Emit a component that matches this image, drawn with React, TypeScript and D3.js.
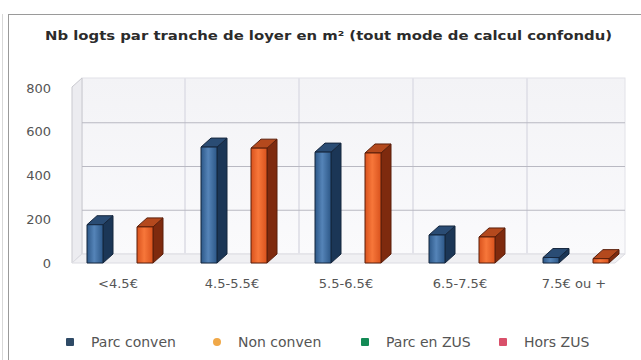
import React from "react";
import * as d3 from "d3";

const categories = ["<4.5€", "4.5-5.5€", "5.5-6.5€", "6.5-7.5€", "7.5€ ou +"];
const parcConven = [175, 530, 507, 128, 25];
const nonConven = [165, 525, 503, 119, 20];
const legendNames = ["Parc conven", "Non conven", "Parc en ZUS", "Hors ZUS"];
const legendColors = ["#2f4a66", "#f0a848", "#138a55", "#d9506a"];
const yTicks = [0, 200, 400, 600, 800];

const W = 641;
const H = 360;
const DX = 10;
const DY = 9;
const FONT = "'DejaVu Sans', Verdana, sans-serif";

const palettes = [
  { front0: "#5584b8", front1: "#2c5787", side: "#1b3656", top: "#2a4c74", edge: "#15263d" },
  { front0: "#f7773a", front1: "#d9521d", side: "#7e2a0e", top: "#b4491d", edge: "#5a1e0a" },
];

export default function App() {
  const x = d3.scalePoint<string>().domain(categories).range([118, 574]);
  const inner = d3.scaleBand<number>().domain([0, 1]).range([-31, 35]).paddingInner(0.68);
  const y = d3.scaleLinear().domain([0, 800]).range([263, 88]);
  const step = x.step();
  const series = [parcConven, nonConven];

  const wallLeft = 72 + DX;
  const wallRight = 625;
  const wallTop = 78;
  const wallBottom = y(0) - DY;
  const w = inner.bandwidth();

  return (
    <svg width={W} height={H} style={{ position: "absolute", left: 0, top: 0, background: "#fff" }}>
      <defs>
        {palettes.map((p, i) => (
          <linearGradient key={i} id={`front${i}`} x1="0" x2="1" y1="0" y2="0">
            <stop offset="0%" stopColor={p.front1} />
            <stop offset="45%" stopColor={p.front0} />
            <stop offset="100%" stopColor={p.front1} />
          </linearGradient>
        ))}
        <linearGradient id="wall" x1="0" x2="0" y1="0" y2="1">
          <stop offset="0%" stopColor="#f3f3f6" />
          <stop offset="100%" stopColor="#fafafc" />
        </linearGradient>
      </defs>

      {/* outer frame */}
      <line x1={2.5} x2={2.5} y1={14} y2={H} stroke="#d8d8d8" />
      <rect x={8.5} y={14.5} width={W} height={H} fill="none" stroke="#9a9a9a" />

      {/* title */}
      <text
        x={45}
        y={40}
        textLength={567}
        lengthAdjust="spacingAndGlyphs"
        fontFamily={FONT}
        fontWeight="bold"
        fontSize={13}
        fill="#2b2b2b"
      >
        Nb logts par tranche de loyer en m² (tout mode de calcul confondu)
      </text>

      {/* back wall */}
      <rect x={wallLeft} y={wallTop} width={wallRight - wallLeft} height={wallBottom - wallTop} fill="url(#wall)" stroke="#e2e2e8" />
      {/* left wall */}
      <polygon
        points={`72,${wallTop + DY} ${wallLeft},${wallTop} ${wallLeft},${wallBottom} 72,${y(0)}`}
        fill="#ececf0"
        stroke="#c9c9cf"
      />
      {/* floor */}
      <polygon
        points={`72,${y(0)} ${wallLeft},${wallBottom} ${wallRight},${wallBottom} ${wallRight - DX},${y(0)}`}
        fill="#f0f0f3"
        stroke="#dcdce2"
      />

      {/* vertical dividers on the back wall */}
      {categories.slice(0, -1).map((c) => (
        <line
          key={c}
          x1={(x(c) as number) + step / 2 + DX}
          x2={(x(c) as number) + step / 2 + DX}
          y1={wallTop}
          y2={wallBottom}
          stroke="#e3e3ea"
          strokeWidth={2}
        />
      ))}

      {/* horizontal grid on the back wall */}
      {yTicks.slice(1, -1).map((t) => (
        <line key={t} x1={wallLeft} x2={wallRight} y1={y(t) - DY} y2={y(t) - DY} stroke="#b9b9c2" strokeWidth={1} />
      ))}

      {/* y axis labels */}
      {yTicks.map((t) => (
        <text key={t} x={51} y={y(t) + 4.5} textAnchor="end" fontFamily={FONT} fontSize={13} fill="#555">
          {t}
        </text>
      ))}

      {/* 3D bars */}
      {categories.map((c, ci) =>
        series.map((vals, si) => {
          const p = palettes[si];
          const x0 = (x(c) as number) + (inner(si) as number);
          const x1 = x0 + w;
          const yt = y(vals[ci]);
          const yb = y(0);
          return (
            <g key={`${c}-${si}`} stroke={p.edge} strokeWidth={1} strokeLinejoin="round">
              <polygon points={`${x1},${yt} ${x1 + DX},${yt - DY} ${x1 + DX},${yb - DY} ${x1},${yb}`} fill={p.side} />
              <polygon points={`${x0},${yt} ${x0 + DX},${yt - DY} ${x1 + DX},${yt - DY} ${x1},${yt}`} fill={p.top} />
              <rect x={x0} y={yt} width={w} height={yb - yt} fill={`url(#front${si})`} />
            </g>
          );
        })
      )}

      {/* x axis labels */}
      {categories.map((c) => (
        <text key={c} x={x(c) as number} y={288} textAnchor="middle" fontFamily={FONT} fontSize={13} fill="#555">
          {c}
        </text>
      ))}

      {/* legend */}
      {legendNames.map((n, i) => {
        const lx = [70, 217, 365, 503][i];
        return (
          <g key={n}>
            <rect x={lx - 4} y={338} width={8} height={8} fill={legendColors[i]} rx={i === 1 ? 4 : 1} />
            <text x={lx + 21} y={347} fontFamily={FONT} fontSize={14} fill="#555">
              {n}
            </text>
          </g>
        );
      })}
    </svg>
  );
}
